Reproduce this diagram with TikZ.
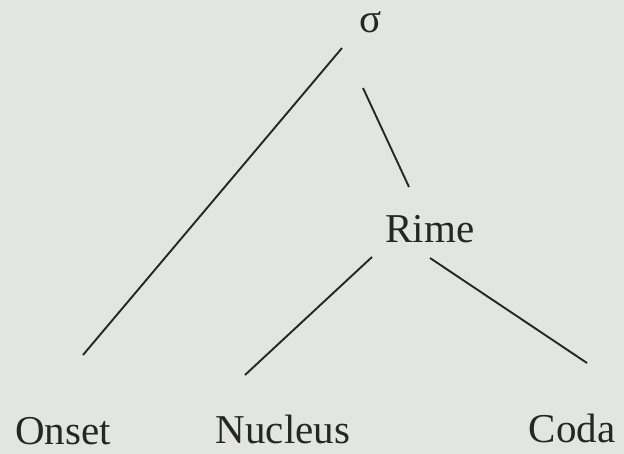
\documentclass[tikz,border=0pt]{standalone}
\usepackage{fontspec}
\setmainfont{Liberation Serif}
\begin{document}
\begin{tikzpicture}[x=1pt,y=-1pt,
  lbl/.style={anchor=base, font=\fontsize{41}{41}\selectfont, text=black!85, inner sep=0pt},
  branch/.style={line width=1.9pt, draw=black!85}]
\fill[fill={rgb,255:red,227;green,229;blue,225}] (0,0) rectangle (624,454);
\useasboundingbox (0,0) rectangle (624,454);
\node[lbl] (sigma) at (371,33) {σ};
\node[lbl] (rime) at (430,243) {Rime};
\node[lbl] (onset) at (63,444) {Onset};
\node[lbl] (nucleus) at (283,443) {Nucleus};
\node[lbl] (coda) at (572,442) {Coda};
% connector end points
\coordinate (sL) at (342,48);
\coordinate (oT) at (83,355);
\coordinate (sR) at (363,88);
\coordinate (rT) at (409,187);
\coordinate (rL) at (372,257);
\coordinate (nT) at (245,375);
\coordinate (rR) at (430,258);
\coordinate (cT) at (587,363);
\draw[branch] (sL) -- (oT);
\draw[branch] (sR) -- (rT);
\draw[branch] (rL) -- (nT);
\draw[branch] (rR) -- (cT);
\end{tikzpicture}
\end{document}
